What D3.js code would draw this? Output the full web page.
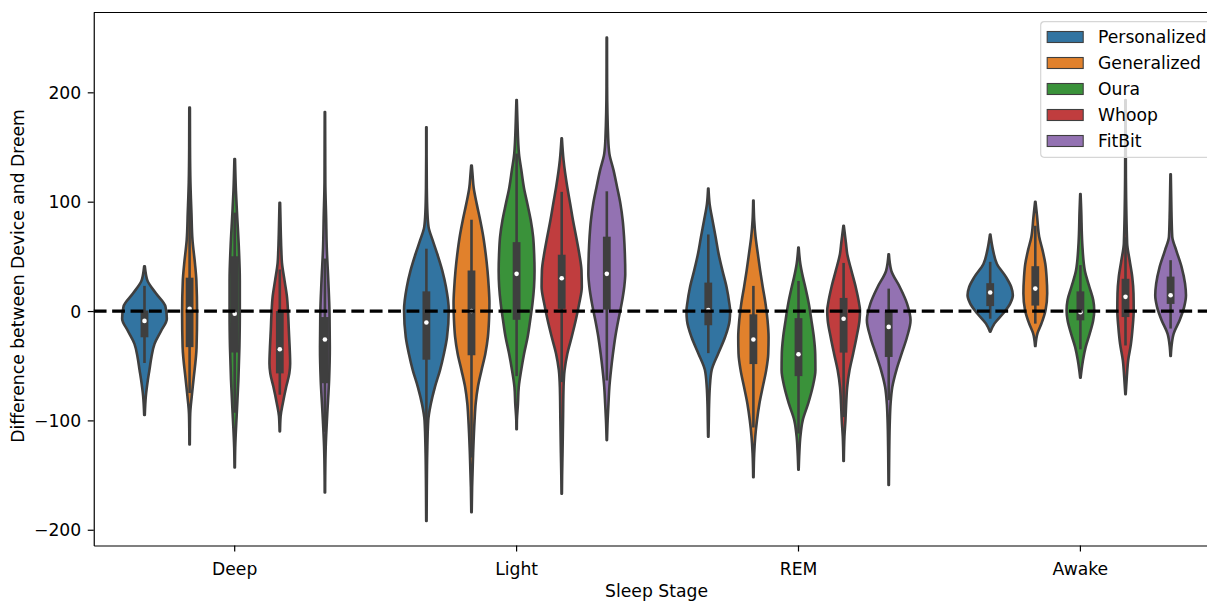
<!DOCTYPE html>
<html>
<head>
<meta charset="utf-8">
<script src="https://cdn.jsdelivr.net/npm/d3@7"></script>
<style>
  body { margin: 0; background: #fff; }
  text { font-family: "DejaVu Sans", sans-serif; }
</style>
</head>
<body>
<div id="chart"></div>
<script>
// Categories and hues
const stages = ["Deep", "Light", "REM", "Awake"];
const devices = ["Personalized", "Generalized", "Oura", "Whoop", "FitBit"];
const palette = ["#3274a1", "#e1812c", "#3a923a", "#c03d3e", "#9372b2"];
const yTicks = [-200, -100, 0, 100, 200];

// inner box per device: [lower whisker, q1, median, q3, upper whisker]
const deepBox = [[-47.5, -24, -9, 0.5, 23], [-75, -33, 2, 30.5, 103], [-93, -38, -2.5, 50, 90], [-76.5, -57, -35, 0, 38], [-110.5, -66, -26, -5.5, 48]];
const lightBox = [[-127, -44.5, -10.5, 18, 57], [-134, -40.5, 0, 37, 83.5], [-59.5, -8, 34, 63, 144], [-65, 2, 30, 51.5, 109], [-63.5, 1.3, 34, 68, 109.5]];
const remBox = [[-38.5, -13, 1, 26, 70], [-106.5, -48.5, -26, -3, 23], [-112, -59.5, -39.5, -6.5, 27.5], [-97, -38, -7, 12, 44], [-81.5, -42, -14.5, -1, 20.5]];
const awakeBox = [[-7, 4.5, 17, 25.5, 45], [-11.5, 5, 20.5, 41, 78], [-35, -8.5, -1, 18, 42], [-31.5, -5.5, 13, 29.5, 67.5], [-16, 6.5, 14.5, 31.5, 46.5]];

// violin outlines: [difference, relative density], top to bottom
const deepShape = [
  [[41, 0.3], [33, 1.5], [28, 2.8], [16, 11.3], [4, 20.5], [-7, 21.8], [-18, 16.3], [-30, 9.8], [-42, 6.8], [-54, 4.8], [-63, 3.3], [-78, 1.3], [-95, 0.3]],
  [[186, 0.3], [150, 0.4], [118, 0.8], [90, 1.8], [65, 2.8], [43, 5.3], [28, 6.6], [-2, 7.3], [-33, 6.8], [-63, 3.8], [-78, 2.1], [-94, 0.6], [-110, 0.3], [-122, 0.2]],
  [[139, 0.3], [110, 1.2], [89, 2.3], [59, 4], [28, 5], [-2, 5], [-33, 4.6], [-63, 3.6], [-94, 2], [-125, 0.5], [-143, 0.2]],
  [[99, 0.3], [70, 1], [55, 1.5], [44, 2.1], [28, 4.6], [13, 7], [-2, 8.1], [-17.5, 8.8], [-33, 9.6], [-48, 10.1], [-57, 9.3], [-69, 6.3], [-84, 3], [-96, 0.8], [-110, 0.2]],
  [[182, 0.2], [150, 0.3], [118, 0.4], [85, 1.2], [58, 1.8], [28, 3.3], [-2, 4.5], [-33, 4.8], [-63, 4.1], [-94, 2.3], [-124, 0.8], [-150, 0.3], [-166, 0.2]]
];
const lightShape = [
  [[168, 0.2], [143, 0.2], [113, 0.4], [90, 1], [77, 2.1], [65, 6], [52.5, 10.5], [37, 15.5], [22, 19.1], [1, 21.8], [-24, 20.1], [-39, 17.1], [-54, 13.3], [-69.5, 8.3], [-85, 4.3], [-100, 1.8], [-130, 0.8], [-161, 0.4], [-192, 0.2]],
  [[133, 0.3], [125, 1], [113, 2.1], [98, 5.1], [83, 8.5], [68, 11.5], [52.5, 13.8], [37, 15.6], [22, 16.8], [7, 17.5], [-8, 17.1], [-23.5, 16], [-39, 13.5], [-54, 9.8], [-69, 6.3], [-84.5, 4.1], [-100, 3], [-130, 1.6], [-161, 0.6], [-184, 0.2]],
  [[193, 0.2], [174, 0.8], [144, 2.3], [129, 4.6], [113, 7.1], [98, 10.5], [83, 13.8], [68, 16.1], [52.5, 17.1], [37, 17.5], [22, 17], [7, 15.5], [-8, 13.3], [-23.5, 10.8], [-39, 7.3], [-54, 4.5], [-69.5, 2.1], [-85, 1.3], [-100, 0.3], [-108, 0.2]],
  [[158, 0.2], [138, 1.8], [113, 5.5], [98, 8.3], [83, 11], [68, 14.1], [52.5, 17.1], [37, 19.3], [22, 19.6], [7, 17.1], [-8, 13.8], [-23.5, 9.8], [-39, 5.5], [-54, 2.8], [-69.5, 1.8], [-100, 1.3], [-130, 0.8], [-150, 0.4], [-167, 0.2]],
  [[250, 0.2], [205, 0.3], [159, 1.3], [144, 2.5], [128.6, 6.6], [113, 10.1], [98, 13.3], [83, 15.5], [68, 16.8], [52.5, 17.6], [34, 18], [22, 17], [7, 14.5], [-8, 11.3], [-23.5, 8.3], [-39, 6], [-54, 4.1], [-69.5, 2.5], [-85, 1.6], [-100, 0.8], [-118, 0.2]]
];
const remShape = [
  [[112, 0.2], [98, 1.3], [83, 4.1], [68, 7.1], [52.5, 10], [37, 13.8], [22, 17.8], [7, 20.5], [0.6, 21.3], [-8.5, 20.8], [-24, 16.3], [-39, 9.6], [-54, 3.3], [-69.5, 1.5], [-85, 0.8], [-100, 0.5], [-115, 0.2]],
  [[101, 0.2], [83, 0.8], [68, 2.1], [52.5, 4.3], [37, 6.6], [22, 9.1], [7, 11.8], [-8.5, 13.8], [-24, 14.8], [-39, 14.5], [-54, 12.5], [-69.5, 9.1], [-85, 5.8], [-100, 3.5], [-115, 1.8], [-130, 0.8], [-152, 0.2]],
  [[58, 0.2], [43, 1.8], [31, 4.3], [22, 6.6], [7, 10], [-8.5, 12.6], [-24, 15], [-39, 16.3], [-54, 16.5], [-69.5, 13.8], [-85, 9.3], [-100, 4.1], [-115, 1.8], [-130, 0.8], [-145, 0.2]],
  [[78, 0.2], [62, 2.3], [52.5, 3.5], [37, 7.6], [22, 11.8], [7, 15.1], [0.6, 16], [-8.5, 15.5], [-24, 12.6], [-39, 9.3], [-54, 5.8], [-69.5, 3.5], [-85, 2.5], [-100, 1.8], [-115, 0.8], [-137, 0.2]],
  [[52, 0.2], [37, 2.5], [22, 10.8], [7, 17.8], [-8.5, 21.3], [-24, 17.8], [-39, 12.6], [-54, 7.5], [-69.5, 3.5], [-85, 1.8], [-100, 1.1], [-130, 0.5], [-159, 0.2]]
];
const awakeShape = [
  [[70, 0.2], [55.5, 2.8], [43, 6.6], [31, 15.5], [22, 20.5], [14.4, 22.1], [7, 19.6], [-2.3, 12.6], [-11.5, 4.1], [-19, 0.2]],
  [[100, 0.2], [86, 1.8], [68, 3.8], [55.5, 7.1], [43, 9.8], [31, 11], [16, 11.6], [0.8, 10], [-11.4, 6], [-20.5, 2.1], [-32, 0.2]],
  [[107, 0.2], [92, 0.8], [62, 1.8], [37, 4.3], [22, 8.8], [10, 12.5], [0.6, 13.5], [-8.5, 12.5], [-20.7, 9.1], [-33, 5.1], [-45, 2.5], [-54, 1.1], [-61, 0.2]],
  [[193, 0.2], [168, 0.2], [122, 0.4], [62, 1.6], [46, 4.1], [31, 6.6], [16, 7.8], [0.8, 8], [-14.5, 7], [-30, 5.3], [-45, 2.6], [-60, 1.3], [-76, 0.2]],
  [[125, 0.2], [92, 0.8], [68, 1.6], [55.5, 5.5], [40, 10.8], [25, 14.1], [14.4, 15], [4, 13.3], [-8.4, 8.8], [-20.6, 3], [-33, 0.8], [-41, 0.2]]
];

const shapes = [deepShape, lightShape, remShape, awakeShape];
const boxes = [deepBox, lightBox, remBox, awakeBox];

const violins = stages.flatMap((s, i) => devices.map((d, j) => ({
  stage: s, device: d, shape: shapes[i][j], box: boxes[i][j]
})));

// Set up SVG canvas (the axes run a bit past the right edge of the picture)
const width = 1207, height = 602;
const margin = { top: 12.5, left: 93.75 };
const plotW = 1127.6, plotH = 533;
const gray = "#3f3f3f";
const fontSize = "17.2px";

const svg = d3.select("#chart")
  .append("svg")
  .attr("width", width)
  .attr("height", height);

// Define scales
const x = d3.scaleBand()
  .domain(stages)
  .range([margin.left, margin.left + plotW]);

const xHue = d3.scaleBand()
  .domain(devices)
  .range([x.bandwidth() * 0.1, x.bandwidth() * 0.9]);

const y = d3.scaleLinear()
  .domain([-214.4, 273])
  .range([margin.top + plotH, margin.top]);

const w = d3.scaleLinear()
  .domain([0, 22])
  .range([0, xHue.bandwidth() / 2]);

const color = d3.scaleOrdinal().domain(devices).range(palette);

const area = d3.area()
  .y(d => y(d[0]))
  .x0(d => -w(d[1]))
  .x1(d => w(d[1]))
  .curve(d3.curveMonotoneY);

// Violins
const g = svg.selectAll(".violin")
  .data(violins)
  .enter()
  .append("g")
  .attr("class", "violin")
  .attr("transform", d => `translate(${x(d.stage) + xHue(d.device) + xHue.bandwidth() / 2},0)`);

g.append("path")
  .attr("d", d => area(d.shape))
  .attr("fill", d => color(d.device))
  .attr("stroke", gray)
  .attr("stroke-width", 2.6)
  .attr("stroke-linejoin", "round");

g.append("line")
  .attr("y1", d => y(d.box[0]))
  .attr("y2", d => y(d.box[4]))
  .attr("stroke", gray)
  .attr("stroke-width", 2.6);

g.append("line")
  .attr("y1", d => y(d.box[1]))
  .attr("y2", d => y(d.box[3]))
  .attr("stroke", gray)
  .attr("stroke-width", 7.8);

// zero reference line
svg.append("line")
  .attr("x1", margin.left)
  .attr("x2", margin.left + plotW)
  .attr("y1", y(0))
  .attr("y2", y(0))
  .attr("stroke", "#000")
  .attr("stroke-width", 3.3)
  .attr("stroke-dasharray", "12.8,5.6");

g.append("circle")
  .attr("cy", d => y(d.box[2]))
  .attr("r", 2.3)
  .attr("fill", "#fff");

// Add axes
const xAxis = svg.append("g")
  .attr("transform", `translate(0,${margin.top + plotH})`)
  .call(d3.axisBottom(x).tickSize(6).tickSizeOuter(0).tickPadding(11));

const yAxis = svg.append("g")
  .attr("transform", `translate(${margin.left},0)`)
  .call(d3.axisLeft(y).tickValues(yTicks).tickSize(6).tickSizeOuter(0).tickPadding(6.5));

[xAxis, yAxis].forEach(a => {
  a.selectAll("text").attr("font-size", fontSize).attr("font-family", "DejaVu Sans").attr("fill", "#000");
  a.selectAll("line").attr("stroke", "#000").attr("stroke-width", 1.2);
  a.select(".domain").attr("stroke", "#000").attr("stroke-width", 1.2);
});
yAxis.selectAll("text").attr("dy", "0.36em");

// top spine
svg.append("line")
  .attr("x1", margin.left)
  .attr("x2", margin.left + plotW)
  .attr("y1", margin.top)
  .attr("y2", margin.top)
  .attr("stroke", "#000")
  .attr("stroke-width", 1.2);

// Axis labels
svg.append("text")
  .attr("x", margin.left + plotW / 2 - 1)
  .attr("y", 597.3)
  .attr("text-anchor", "middle")
  .attr("font-size", fontSize)
  .text("Sleep Stage");

svg.append("text")
  .attr("transform", `translate(24,${margin.top + plotH / 2 - 3}) rotate(-90)`)
  .attr("text-anchor", "middle")
  .attr("font-size", fontSize)
  .text("Difference between Device and Dreem");

// Legend
const legend = svg.append("g").attr("transform", "translate(1040.7,21.7)");
legend.append("rect")
  .attr("width", 172)
  .attr("height", 135.6)
  .attr("rx", 3.5)
  .attr("fill", "#fff")
  .attr("fill-opacity", 0.8)
  .attr("stroke", "#d6d6d6")
  .attr("stroke-width", 1.2);

const item = legend.selectAll(".item")
  .data(devices)
  .enter()
  .append("g")
  .attr("transform", (d, i) => `translate(0,${15.3 + i * 26})`);

item.append("rect")
  .attr("x", 6.5)
  .attr("y", -5.5)
  .attr("width", 36)
  .attr("height", 11)
  .attr("fill", d => color(d))
  .attr("stroke", gray)
  .attr("stroke-width", 1.1);

item.append("text")
  .attr("x", 57.3)
  .attr("dy", "0.36em")
  .attr("font-size", fontSize)
  .text(d => d);
</script>
</body>
</html>
